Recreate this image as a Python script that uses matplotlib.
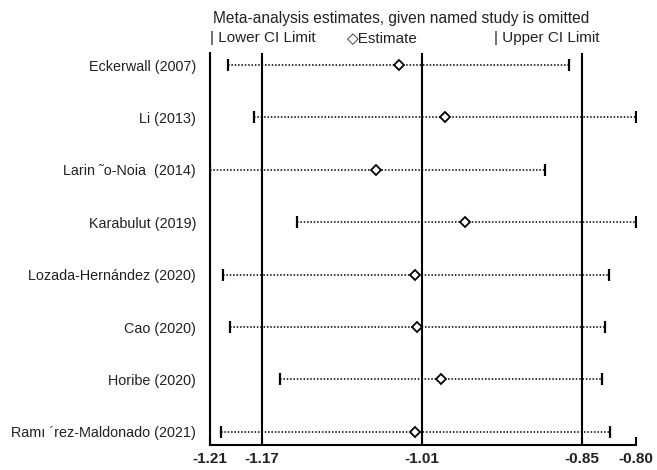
import matplotlib.pyplot as plt

plt.rcParams['font.family'] = ['Liberation Sans', 'DejaVu Sans']

studies = ["Eckerwall (2007)", "Li (2013)", "Larin \u02dco-Noia  (2014)", "Karabulut (2019)",
           "Lozada-Hern\u00e1ndez (2020)", "Cao (2020)", "Horibe (2020)",
           "Ram\u0131 \u00b4rez-Maldonado (2021)"]
lower = [-1.204, -1.178, -1.2217, -1.135, -1.209, -1.202, -1.152, -1.211]
estimate = [-1.033, -0.987, -1.056, -0.967, -1.017, -1.015, -0.991, -1.017]
upper = [-0.863, -0.796, -0.887, -0.796, -0.823, -0.827, -0.830, -0.822]

# overall estimate and its CI
overall = [-1.17, -1.01, -0.85]

xticks = [-1.2217, -1.17, -1.01, -0.85, -0.796]
xticklabels = ["-1.21", "-1.17", "-1.01", "-0.85", "-0.80"]

fig = plt.figure(figsize=(6.57, 4.70), dpi=100)
ax = fig.add_axes([210/657, 1 - 445/470, 426/657, 392/470])

rows = list(range(1, len(studies) + 1))

for v in overall:
    ax.axvline(v, color='black', lw=1.5)

for y, lo, es, up in zip(rows, lower, estimate, upper):
    ax.plot([lo, up], [y, y], color='black', lw=1.1, linestyle=(0, (1, 1.2)))
    ax.plot([lo, up], [y, y], linestyle='none', marker='|', color='black',
            markersize=8, markeredgewidth=1.6)
    ax.plot(es, y, marker='D', markersize=5.5, markerfacecolor='white',
            markeredgecolor='black', markeredgewidth=1.3, linestyle='none')

ax.set_xlim(xticks[0], xticks[-1])
ax.set_ylim(8.25, 0.77)
ax.set_yticks(rows)
ax.set_yticklabels(studies, fontsize=10.4, color='#222222')
ax.tick_params(axis='y', length=0, pad=10)
ax.set_xticks(xticks)
ax.set_xticklabels(xticklabels, fontsize=11, color='#222222', fontweight='bold')
ax.tick_params(axis='x', direction='in', length=6, width=1.5, pad=5)

ax.spines['top'].set_visible(False)
ax.spines['right'].set_visible(False)
ax.spines['left'].set_linewidth(1.5)
ax.spines['bottom'].set_linewidth(1.5)

fig.text(213/657, 1 - 18/470, "Meta-analysis estimates, given named study is omitted",
         fontsize=11.2, va='center', ha='left', color='#222222')
fig.text(210/657, 1 - 38/470, "| Lower CI Limit", fontsize=11, va='center', ha='left',
         color='#222222')
fig.text(347/657, 1 - 38/470, "\u25c7Estimate", fontsize=11, va='center', ha='left',
         color='#222222')
fig.text(494/657, 1 - 38/470, "| Upper CI Limit", fontsize=11, va='center', ha='left',
         color='#222222')

fig.savefig("out.png", dpi=100)
